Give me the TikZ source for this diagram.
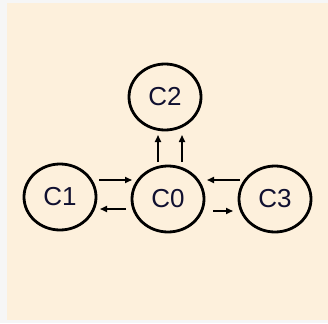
\documentclass[tikz,border=0pt]{standalone}
\usepackage{fontspec}
\setmainfont{Liberation Sans}
\usetikzlibrary{shapes.geometric,arrows.meta,calc}
\definecolor{bgbeige}{HTML}{FDF0DC}
\definecolor{edgewhite}{HTML}{F6F6F6}
\definecolor{txt}{HTML}{101030}
\tikzset{
  state/.style={ellipse,draw=black,line width=2.8pt,minimum width=72pt,minimum height=66pt,inner sep=0pt,text=txt,font=\fontsize{26}{26}\selectfont},
  link/.style={line width=1.6pt,-{Triangle[length=7pt,width=6pt]}}
}
\begin{document}
\begin{tikzpicture}[x=1pt,y=-1pt]
\useasboundingbox (0,0) rectangle (328,323);
\fill[edgewhite] (0,0) rectangle (328,323);
\fill[bgbeige] (7,3) rectangle (328,320);
\node[state] (c2) at (165,97) {C2};
\node[state] (c1) at (60,197) {C1};
\node[state] (c0) at (168,199) {C0};
\node[state] (c3) at (275,199) {C3};
\draw[link] ($(c1)+(39,-17)$) -- ($(c0)+(-36,-19)$);
\draw[link] ($(c0)+(-42,10)$) -- ($(c1)+(40,12)$);
\draw[link] ($(c3)+(-35,-19)$) -- ($(c0)+(39,-19)$);
\draw[link] ($(c0)+(45,12)$) -- ($(c3)+(-42,12)$);
\draw[link] ($(c0)+(-10,-37)$) -- ($(c2)+(-7,38)$);
\draw[link] ($(c0)+(14,-37)$) -- ($(c2)+(17,38)$);
\end{tikzpicture}
\end{document}
